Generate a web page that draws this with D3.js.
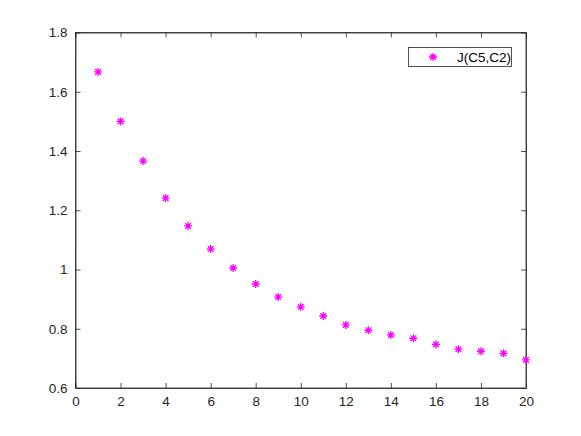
<!DOCTYPE html>
<html><head><meta charset="utf-8">
<script src="https://cdn.jsdelivr.net/npm/d3@7"></script>
<style>body{margin:0;background:#fff}svg{display:block}</style>
</head><body>
<script>
const xValues = [1,2,3,4,5,6,7,8,9,10,11,12,13,14,15,16,17,18,19,20];
const yValues = [1.667,1.500,1.366,1.241,1.147,1.069,1.005,0.951,0.907,0.874,0.843,0.813,0.795,0.779,0.768,0.747,0.731,0.724,0.717,0.695];
const xTicks = [0,2,4,6,8,10,12,14,16,18,20];
const yTicks = [0.6,0.8,1,1.2,1.4,1.6,1.8];
const seriesName = "J(C5,C2)";

const W = 581, H = 436;
const L = 75.5, R = 526, T = 32.5, B = 388;
const axisColor = "#262626";
const markerColor = "#ff00ff";

const svg = d3.select("body").append("svg").attr("width", W).attr("height", H);
const x = d3.scaleLinear().domain([0,20]).range([L,R]);
const y = d3.scaleLinear().domain([0.6,1.8]).range([B,T]);

const font = "'Liberation Sans', Arial, Helvetica, sans-serif";

svg.append("rect").attr("x",L).attr("y",T).attr("width",R-L).attr("height",B-T)
  .attr("fill","#fff").attr("stroke",axisColor).attr("stroke-width",0.8);

const fmt = d => d3.format("")(+d.toFixed(1));

const xb = svg.append("g").attr("transform",`translate(0,${B})`)
  .call(d3.axisBottom(x).tickValues(xTicks).tickSizeInner(-5).tickSizeOuter(0).tickPadding(8).tickFormat(fmt));
const xt = svg.append("g").attr("transform",`translate(0,${T})`)
  .call(d3.axisTop(x).tickValues(xTicks).tickSizeInner(-5).tickSizeOuter(0).tickFormat(""));
const yl = svg.append("g").attr("transform",`translate(${L},0)`)
  .call(d3.axisLeft(y).tickValues(yTicks).tickSizeInner(-5).tickSizeOuter(0).tickPadding(8).tickFormat(fmt));
const yr = svg.append("g").attr("transform",`translate(${R},0)`)
  .call(d3.axisRight(y).tickValues(yTicks).tickSizeInner(-5).tickSizeOuter(0).tickFormat(""));

[xb,xt,yl,yr].forEach(g=>{
  g.select(".domain").attr("stroke",axisColor).attr("stroke-width",0.8);
  g.selectAll(".tick line").attr("stroke",axisColor).attr("stroke-width",0.8);
  g.selectAll(".tick text").attr("fill",axisColor).attr("font-family",font).attr("font-size",13.5);
});

function star(cx, cy, r){
  const d = r*0.7071;
  return `M${cx-r},${cy}L${cx+r},${cy}M${cx},${cy-r}L${cx},${cy+r}`+
         `M${cx-d},${cy-d}L${cx+d},${cy+d}M${cx-d},${cy+d}L${cx+d},${cy-d}`;
}

svg.append("g").selectAll("path").data(xValues.map((v,i)=>[v,yValues[i]])).join("path")
  .attr("d", d=>star(x(d[0]), y(d[1]), 4))
  .attr("stroke", markerColor).attr("stroke-width",1.3).attr("fill","none");

const lg = svg.append("g");
lg.append("rect").attr("x",408.5).attr("y",47.5).attr("width",103).attr("height",19)
  .attr("fill","#fff").attr("stroke",axisColor).attr("stroke-width",0.8);
lg.append("path").attr("d", star(433, 57, 4)).attr("stroke",markerColor).attr("stroke-width",1.3).attr("fill","none");
lg.append("text").attr("x",457).attr("y",61.8).attr("font-family",font).attr("font-size",13.5)
  .attr("fill","#000").text(seriesName);
</script>
</body></html>
